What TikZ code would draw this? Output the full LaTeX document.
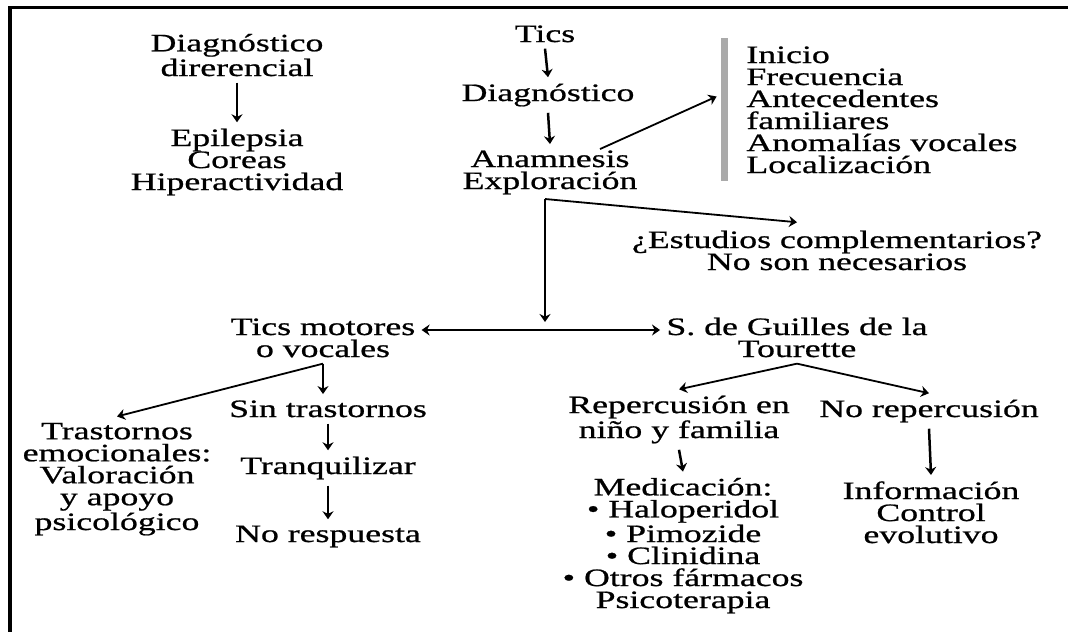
\documentclass[tikz,border=0pt]{standalone}
\usepackage{fontspec}
\setmainfont{Liberation Serif}[FakeStretch=1.43,FakeBold=0.8]
\usetikzlibrary{arrows.meta,calc}
\definecolor{barcol}{RGB}{170,170,170}

\begin{document}
\begin{tikzpicture}[x=0.5pt, y=-0.5pt, >={Stealth[length=4pt,width=5.5pt]},
	txt/.style={inner sep=3pt, align=center, anchor=base, font=\fontsize{12.5}{11}\selectfont},
	arr/.style={->, line width=1.25pt},
	slant/.style={->, line width=0.9pt}]
	\useasboundingbox (0,0) rectangle (1068,632);
	\draw[line width=1.75pt] (1068,7.5) -- (10,7.5) -- (10,632);
	% left column (base = last line)
	\node[txt] (dd) at (237,76) {Diagnóstico\\direrencial};
	\node[txt] (epi) at (237,190) {Epilepsia\\Coreas\\Hiperactividad};
	% main column
	\node[txt] (tics) at (545,42) {Tics};
	\node[txt] (diag) at (548,101) {Diagnóstico};
	\node[txt] (anam) at (550,189) {Anamnesis\\Exploración};
	\node[fill=barcol, inner sep=0, minimum width=3.5pt, minimum height=71.5pt] (bar) at (724.5,109.5) {};
	\node[txt, align=left, anchor=base west] (list) at (740,173) {Inicio\\Frecuencia\\Antecedentes\\familiares\\Anomalías vocales\\Localización};
	\node[txt] (est) at (837,270) {¿Estudios complementarios?\\No son necesarios};
	\coordinate (jn) at (545,199);
	\coordinate (split) at (545,330);
	% second level
	\node[txt] (tmv) at (323,357) {Tics motores\\o vocales};
	\node[txt] (sgt) at (797,357) {S. de Guilles de la\\Tourette};
	\node[txt] (trast) at (117,530) {Trastornos\\emocionales:\\Valoración\\y apoyo\\psicológico};
	\node[txt] (sin) at (328,417) {Sin trastornos};
	\node[txt] (tranq) at (328,474) {Tranquilizar};
	\node[txt] (nores) at (328,542) {No respuesta};
	\node[txt] (rep) at (679,438) {Repercusión en\\niño y familia};
	\node[txt] (norep) at (929,417) {No repercusión};
	\node[txt] (med) at (683,608) {Medicación:\\• Haloperidol\\• Pimozide\\• Clinidina\\• Otros fármacos\\Psicoterapia};
	\node[txt] (info) at (931,543) {Información\\Control\\evolutivo};
	% connectors
	\draw[arr] (dd.south) -- (epi.north);
	\draw[arr] (tics.south) -- (diag.north);
	\draw[arr] (diag.south) -- (anam.north);
	\draw[slant] ($(anam.north)+(50,5)$) -- ($(bar.west)+(-4,-13)$);
	\draw[slant] (jn) -- ($(est.north)+(-40,-2)$);
	\draw[line width=1.25pt, ->, shorten >=4pt] (jn) -- (split);
	\draw[line width=1.25pt, <->] (split -| tmv.east) -- (split -| sgt.west);
	\draw[slant] (tmv.south) -- (trast.north);
	\draw[arr] (tmv.south) -- (tmv.south |- sin.north);
	\draw[arr] (sin.south) -- (tranq.north);
	\draw[arr] (tranq.south) -- (nores.north);
	\draw[slant] (sgt.south) -- (rep.north);
	\draw[slant] (sgt.south) -- (norep.north);
	\draw[arr] (rep.south) -- (med.north);
	\draw[arr] (norep.south) -- (info.north);
\end{tikzpicture}
\end{document}
